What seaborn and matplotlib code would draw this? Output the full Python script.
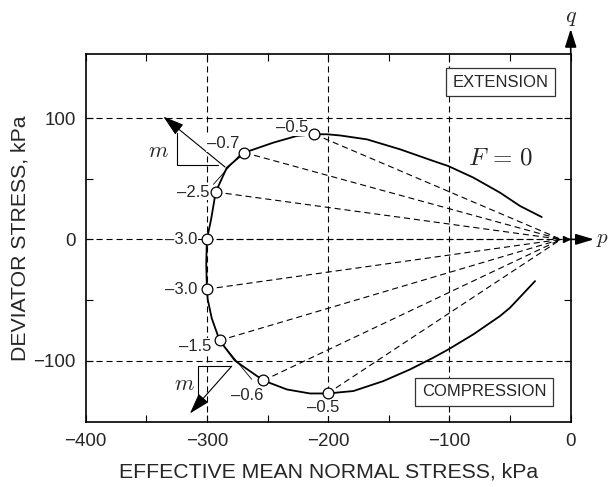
import matplotlib
matplotlib.use("Agg")
import matplotlib.pyplot as plt
import numpy as np
import pandas as pd
import seaborn as sns

# ---- data ----
curve_p = [-23.9, -41.8, -58.3, -80.3, -100.9, -113.3, -140.7, -168.0, -190.0, -201.0,
           -211.3, -226.0, -245.2, -269.0, -283.6, -292.7, -296.5, -300.0, -300.5,
           -300.0, -299.3, -296.0, -289.5, -276.8, -253.4, -234.0, -215.0, -200.5,
           -179.2, -154.5, -132.5, -113.3, -100.9, -80.3, -58.3, -50.0, -29.4]
curve_q = [18.4, 27.5, 38.5, 50.9, 60.4, 64.6, 74.2, 82.4, 85.6, 86.6,
           86.6, 85.2, 79.7, 71.5, 59.0, 39.0, 16.5, 0.0, -20.0,
           -41.0, -49.5, -65.0, -83.3, -100.0, -116.3, -123.7, -127.0, -127.0,
           -125.0, -116.8, -107.2, -97.5, -90.7, -78.3, -63.2, -56.3, -34.4]

pts_p = [-211.3, -269.0, -292.7, -300.0, -300.0, -289.5, -253.4, -200.5]
pts_q = [86.6, 71.5, 39.0, 0.0, -41.0, -83.3, -116.3, -127.0]
pts_lbl = ["–0.5", "–0.7", "–2.5", "–3.0", "–3.0", "–1.5", "–0.6", "–0.5"]
lbl_p = [-216.0, -273.3, -298.0, -308.0, -308.0, -296.5, -266.5, -204.0]
lbl_q = [92.0, 78.9, 39.0, 0.0, -41.0, -88.0, -129.0, -138.8]
lbl_ha = ["right", "right", "right", "right", "right", "right", "center", "center"]

apex_p, apex_q = -8.0, 0.0

tan_up_p, tan_up_q = [-294.6, -272.6], [45.3, 70.0]
tan_lo_p, tan_lo_q = [-289.1, -263.0], [-83.8, -115.4]
norm_up = [(-285.0, 59.6), (-335.9, 101.2)]
norm_lo = [(-279.5, -104.5), (-314.0, -143.5)]
tri_up_p, tri_up_q = [-324.8, -324.8, -290.5], [88.0, 61.3, 61.3]
tri_lo_p, tri_lo_q = [-281.0, -307.0, -307.0], [-104.5, -104.5, -129.2]

x_ticks = [-400, -300, -200, -100, 0]
y_ticks = [-100, 0, 100]

# ---- style ----
sns.set_style("ticks")
plt.rcParams["font.family"] = ["Liberation Sans", "DejaVu Sans"]
plt.rcParams["mathtext.fontset"] = "cm"

fig = plt.figure(figsize=(6.1, 4.87), dpi=100)
ax = fig.add_axes([0.1403, 0.1335, 0.7953, 0.755])

dash = (0, (5.5, 3.5))
for x in [-300, -200, -100]:
    ax.axvline(x, color="k", lw=0.8, ls=dash, zorder=1)
for y in y_ticks:
    ax.axhline(y, color="k", lw=0.8, ls=dash, zorder=1)

# rays
for p, q in zip(pts_p, pts_q):
    ax.plot([p, apex_p], [q, apex_q], color="k", lw=0.8, ls=dash, zorder=2)

df = pd.DataFrame({"p": curve_p, "q": curve_q})
sns.lineplot(data=df, x="p", y="q", sort=False, estimator=None, color="k", lw=1.3, ax=ax, zorder=3)

ax.plot(tan_up_p, tan_up_q, color="k", lw=0.6, zorder=3)
ax.plot(tan_lo_p, tan_lo_q, color="k", lw=0.6, zorder=3)
ax.plot(tri_up_p, tri_up_q, color="k", lw=0.8, zorder=3)
ax.plot(tri_lo_p, tri_lo_q, color="k", lw=0.8, zorder=3)

for (a, b) in [norm_up, norm_lo]:
    ax.annotate("", xy=b, xytext=a,
                arrowprops=dict(arrowstyle="-|>,head_length=1.3,head_width=0.4", mutation_scale=10,
                                lw=0.8, color="k", shrinkA=0, shrinkB=0), zorder=4)

dpts = pd.DataFrame({"p": pts_p, "q": pts_q})
sns.scatterplot(data=dpts, x="p", y="q", s=60, facecolor="white", edgecolor="k", linewidth=0.9,
                ax=ax, zorder=5)

for t, x, y, ha in zip(pts_lbl, lbl_p, lbl_q, lbl_ha):
    ax.text(x, y, t, ha=ha, va="center", fontsize=12, zorder=4.5,
            bbox=dict(boxstyle="square,pad=0.05", fc="white", ec="none"))

ax.text(-340.0, 72.2, r"$m$", fontsize=16, ha="center", va="center")
ax.text(-318.7, -119.6, r"$m$", fontsize=16, ha="center", va="center")
ax.text(-58.2, 67.3, r"$F\,=\,0$", fontsize=18, ha="center", va="center")

ax.text(-57.7, 129.5, "EXTENSION", fontsize=12, ha="center", va="center",
        bbox=dict(boxstyle="square,pad=0.4", fc="white", ec="#333333", lw=0.9))
ax.text(-71.4, -125.6, "COMPRESSION", fontsize=12, ha="center", va="center",
        bbox=dict(boxstyle="square,pad=0.4", fc="white", ec="#333333", lw=0.9))

ax.set_xlim(-400, 0)
ax.set_ylim(-150.5, 152.5)

# q axis arrow
ax.annotate("", xy=(0, 173.4), xytext=(0, 152.5), xycoords="data",
            arrowprops=dict(arrowstyle="-|>,head_length=1.1,head_width=0.35", mutation_scale=10,
                            lw=1.2, color="k", shrinkA=0, shrinkB=0), annotation_clip=False)
ax.text(0, 182.5, r"$q$", fontsize=16, ha="center", va="center", clip_on=False)
# p axis arrow
ax.annotate("", xy=(19.2, 0), xytext=(-5, 0), xycoords="data",
            arrowprops=dict(arrowstyle="-|>,head_length=1.1,head_width=0.33", mutation_scale=10,
                            lw=1.2, color="k", shrinkA=0, shrinkB=0), annotation_clip=False)
ax.plot([-3.5], [0], marker=">", ms=4, color="k", clip_on=False, zorder=6)
ax.text(21.0, 0, r"$p$", fontsize=15, ha="left", va="center", clip_on=False)

ax.set_xticks(x_ticks)
ax.set_yticks(y_ticks)
ax.set_xticks(np.arange(-350, 0, 100), minor=True)
ax.set_yticks([-50, 50], minor=True)
ax.tick_params(which="both", direction="in", top=True, right=True, length=5, width=0.8, color="k")
ax.tick_params(axis="x", which="major", labelsize=13.5, pad=8)
ax.tick_params(axis="y", which="major", labelsize=13.5, pad=7)
for s in ax.spines.values():
    s.set_linewidth(1.2)
    s.set_color("k")

ax.set_xlabel("EFFECTIVE MEAN NORMAL STRESS, kPa", fontsize=15.3, labelpad=9)
ax.set_ylabel("DEVIATOR STRESS, kPa", fontsize=15.3, labelpad=3)

fig.savefig("out.png", dpi=100)
